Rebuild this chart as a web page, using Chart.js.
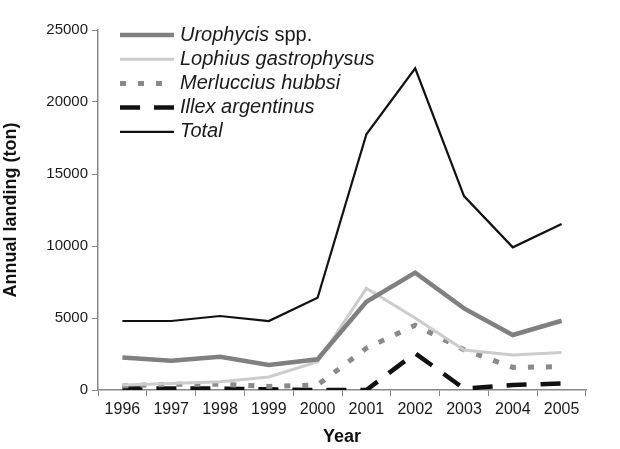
<!DOCTYPE html>
<html>
<head>
<meta charset="utf-8">
<script src="https://cdn.jsdelivr.net/npm/chart.js"></script>
<style>
  html, body { margin: 0; padding: 0; background: #ffffff; }
  #wrap { width: 620px; height: 449px; }
</style>
</head>
<body>
<div id="wrap"><canvas id="landingChart" width="620" height="449"></canvas></div>
<script>
// years on the x axis
const years = ["1996", "1997", "1998", "1999", "2000", "2001", "2002", "2003", "2004", "2005"];

// annual landings (ton)
const urophycis = [2250, 2030, 2310, 1740, 2130, 6130, 8150, 5670, 3820, 4810];
const lophius = [350, 450, 580, 900, 1960, 7060, 5000, 2780, 2430, 2600];
const merluccius = [280, 400, 400, 250, 350, 2900, 4500, 2800, 1570, 1620];
const illex = [100, 100, 100, 50, 0, 0, 2550, 100, 350, 450];
const total = [4790, 4790, 5140, 4790, 6410, 17760, 22340, 13470, 9910, 11530];

const yTicks = [0, 5000, 10000, 15000, 20000, 25000];

// legend text: [italic part, plain part]
const legendText = [
  ["Urophycis", " spp."],
  ["Lophius gastrophysus", ""],
  ["Merluccius hubbsi", ""],
  ["Illex argentinus", ""],
  ["Total", ""]
];

const FONT = "'Liberation Sans', Arial, sans-serif";

// draws the legend inside the plot, top left
const insideLegend = {
  id: "insideLegend",
  afterDatasetsDraw(chart) {
    const ctx = chart.ctx;
    const x0 = 120, x1 = 174, tx = 180;
    chart.data.datasets.forEach((ds, i) => {
      const y = 35 + i * 24.2;
      ctx.save();
      ctx.strokeStyle = ds.borderColor;
      ctx.lineWidth = ds.borderWidth;
      ctx.setLineDash(ds.borderDash || []);
      ctx.beginPath();
      ctx.moveTo(x0, y);
      ctx.lineTo(x1, y);
      ctx.stroke();
      ctx.setLineDash([]);
      ctx.fillStyle = "#1a1a1a";
      ctx.textBaseline = "middle";
      ctx.textAlign = "left";
      ctx.font = "italic 20px " + FONT;
      ctx.fillText(legendText[i][0], tx, y);
      if (legendText[i][1]) {
        const w = ctx.measureText(legendText[i][0]).width;
        ctx.font = "20px " + FONT;
        ctx.fillText(legendText[i][1], tx + w, y);
      }
      ctx.restore();
    });
  }
};

new Chart(document.getElementById("landingChart"), {
  type: "line",
  data: {
    labels: years,
    datasets: [
      {
        label: "Urophycis spp.",
        data: urophycis,
        borderColor: "#808080",
        borderWidth: 4.5
      },
      {
        label: "Lophius gastrophysus",
        data: lophius,
        borderColor: "#cccccc",
        borderWidth: 3
      },
      {
        label: "Merluccius hubbsi",
        data: merluccius,
        borderColor: "#8a8a8a",
        borderWidth: 5,
        borderDash: [6, 12]
      },
      {
        label: "Illex argentinus",
        data: illex,
        borderColor: "#111111",
        borderWidth: 4.5,
        borderDash: [20, 14]
      },
      {
        label: "Total",
        data: total,
        borderColor: "#111111",
        borderWidth: 2.2
      }
    ]
  },
  options: {
    responsive: false,
    animation: false,
    layout: { padding: { top: 30, right: 34, left: 0, bottom: 0 } },
    elements: {
      point: { radius: 0 },
      line: { tension: 0, fill: false, borderCapStyle: "butt" }
    },
    plugins: {
      legend: { display: false },
      tooltip: { enabled: false }
    },
    scales: {
      x: {
        offset: true,
        afterFit(scale) { scale.height = 59; },
        grid: {
          offset: true,
          drawOnChartArea: false,
          drawTicks: true,
          tickLength: 6,
          color: "#888888"
        },
        border: { color: "#888888", width: 1.5 },
        ticks: {
          padding: 4,
          color: "#1a1a1a",
          font: { size: 16, family: FONT },
          maxRotation: 0,
          autoSkip: false
        },
        title: {
          display: true,
          text: "Year",
          color: "#111111",
          font: { size: 18, weight: "bold", family: FONT },
          padding: { top: 0, bottom: 1 }
        }
      },
      y: {
        min: 0,
        max: 25000,
        afterFit(scale) { scale.width = 98; },
        afterBuildTicks(scale) { scale.ticks = yTicks.map(v => ({ value: v })); },
        grid: {
          drawOnChartArea: false,
          drawTicks: true,
          tickLength: 6,
          color: "#888888"
        },
        border: { color: "#888888", width: 1.5 },
        ticks: {
          padding: 4,
          color: "#1a1a1a",
          font: { size: 15, family: FONT },
          callback: v => String(v)
        },
        title: {
          display: true,
          text: "Annual landing (ton)",
          color: "#111111",
          font: { size: 18, weight: "bold", family: FONT },
          padding: { top: 0, bottom: 7 }
        }
      }
    }
  },
  plugins: [insideLegend]
});
</script>
</body>
</html>
